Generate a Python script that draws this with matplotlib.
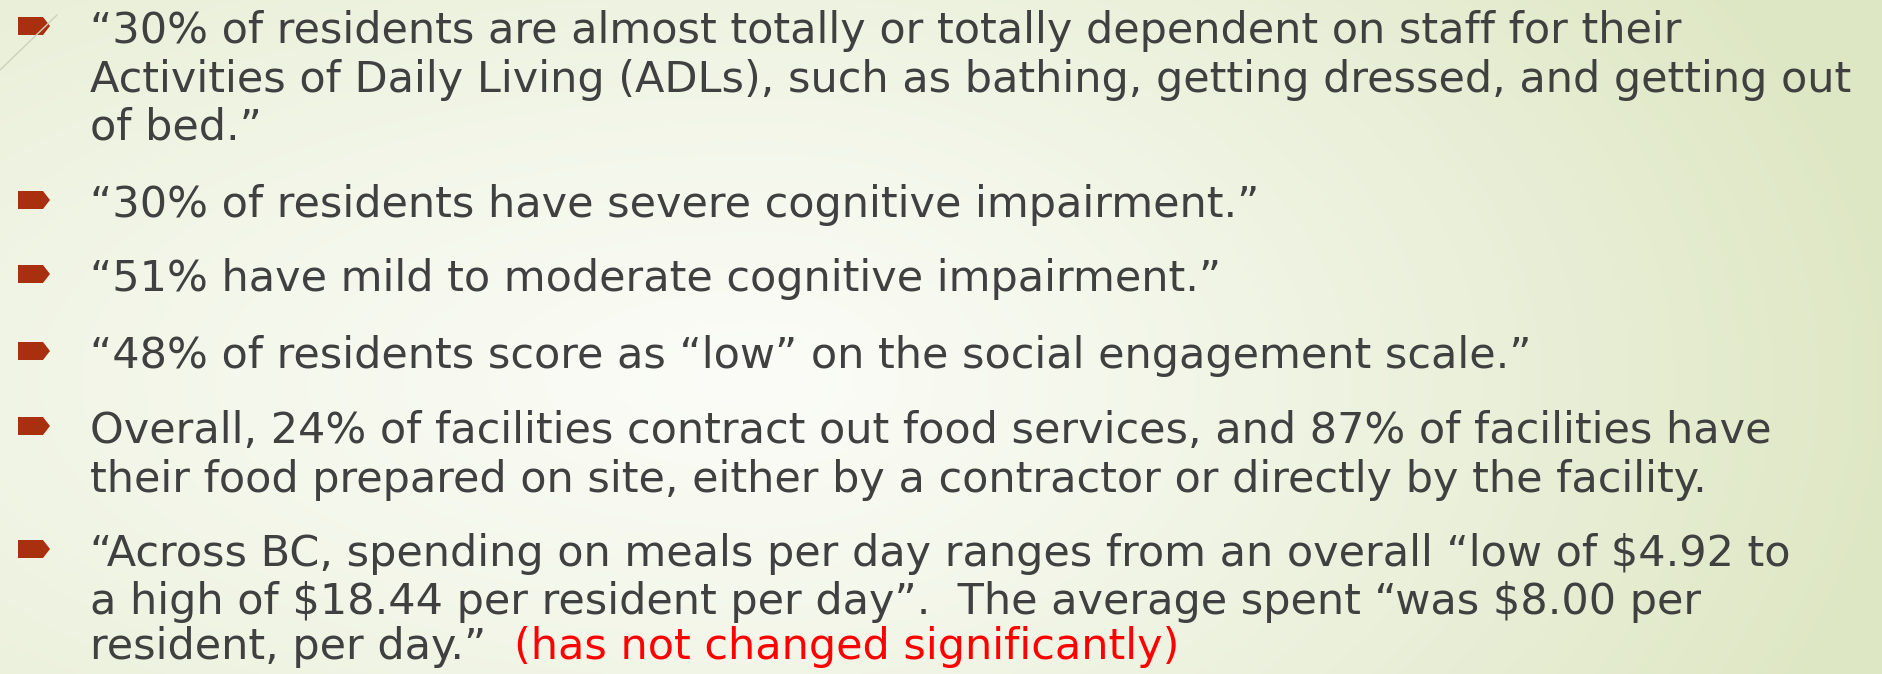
import numpy as np
import matplotlib
matplotlib.use("Agg")
from matplotlib import pyplot as plt
from matplotlib.patches import Polygon

W, H = 1882, 674

# slide text, one list per bullet
bullet1 = ["\u201c30% of residents are almost totally or totally dependent on staff for their",
           "Activities of Daily Living (ADLs), such as bathing, getting dressed, and getting out",
           "of bed.\u201d"]
bullet2 = ["\u201c30% of residents have severe cognitive impairment.\u201d"]
bullet3 = ["\u201c51% have mild to moderate cognitive impairment.\u201d"]
bullet4 = ["\u201c48% of residents score as \u201clow\u201d on the social engagement scale.\u201d"]
bullet5 = ["Overall, 24% of facilities contract out food services, and 87% of facilities have",
           "their food prepared on site, either by a contractor or directly by the facility."]
bullet6 = ["\u201cAcross BC, spending on meals per day ranges from an overall \u201clow of $4.92 to",
           "a high of $18.44 per resident per day\u201d.  The average spent \u201cwas $8.00 per",
           "resident, per day.\u201d  "]
red_note = "(has not changed significantly)"

bullets = [bullet1, bullet2, bullet3, bullet4, bullet5, bullet6]
baselines = [[43, 92, 140], [217], [291], [368], [443, 492], [566, 614, 659]]

FONT = "DejaVu Sans"
TEXT_COLOR = "#404040"
BULLET_COLOR = "#a8300f"
TEXT_X = 90
TARGET_W = 1760  # width of the longest line in the slide

fig = plt.figure(figsize=(W / 100, H / 100), dpi=100)

# background: soft radial gradient, pale in the middle, greener to the right
bg = fig.add_axes([0, 0, 1, 1])
bg.set_axis_off()
yy, xx = np.mgrid[0:H, 0:W]
rx = np.where(xx < 760, 1800.0, 1150.0)
r = np.sqrt(((xx - 760) / rx) ** 2 + ((yy - 380) / 750.0) ** 2)
r = np.clip(r, 0, 1) ** 1.2
c_in = np.array([251, 252, 247]) / 255.0
c_out = np.array([222, 231, 196]) / 255.0
img = c_in[None, None, :] * (1 - r[..., None]) + c_out[None, None, :] * r[..., None]
bg.imshow(img, extent=[0, W, H, 0], aspect="auto")
bg.set_xlim(0, W)
bg.set_ylim(H, 0)

# thin decorative line in the top-left corner
bg.plot([0, 57], [70, 15], color="#cfcfbf", lw=1)

# fit one font size so the longest line spans the same width as the slide
renderer = fig.canvas.get_renderer()
probe = fig.text(0, 0, bullet1[1], fontsize=30, family=FONT, parse_math=False)
w30 = probe.get_window_extent(renderer).width
probe.remove()
fs = 30 * TARGET_W / w30

def fy(y):
    return 1 - y / H

for lines, ys in zip(bullets, baselines):
    for line, y in zip(lines, ys):
        fig.text(TEXT_X / W, fy(y), line, fontsize=fs, family=FONT,
                 color=TEXT_COLOR, va="baseline", ha="left", parse_math=False)
    # arrow-shaped bullet, centred on the cap height of the first line
    cy = ys[0] - 17
    bg.add_patch(Polygon([[18, cy - 9], [43, cy - 9], [50, cy], [43, cy + 9], [18, cy + 9]],
                         closed=True, color=BULLET_COLOR, lw=0))

# red remark after the last line
last = fig.texts[-1]
ext = last.get_window_extent(renderer)
fig.text(ext.x1 / W, fy(baselines[-1][-1]), red_note, fontsize=fs, family=FONT,
         color="#ff0000", va="baseline", ha="left", parse_math=False)

fig.savefig("out.png", dpi=100)
